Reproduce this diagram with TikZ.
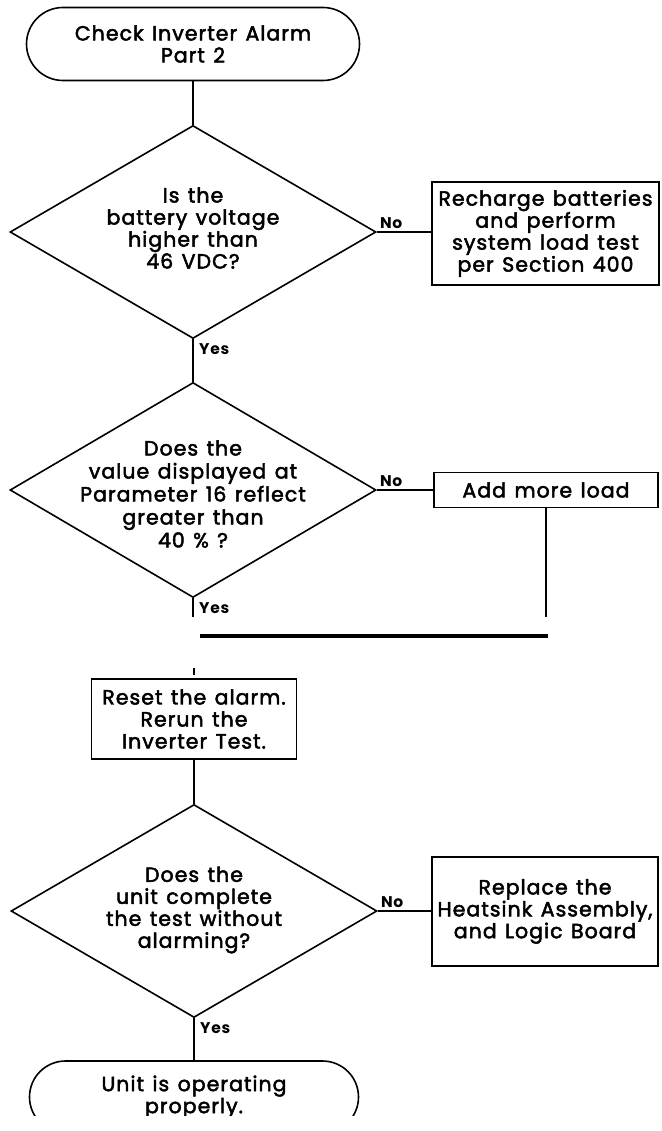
\documentclass[tikz,border=0pt]{standalone}
\usepackage{fontspec}
\setmainfont{Poppins}[UprightFeatures={FakeBold=2.4}, LetterSpace=5, WordSpace=1.3]
\usetikzlibrary{shapes.geometric,shapes.misc}

\begin{document}
\begin{tikzpicture}[x=1pt,y=-1pt,
  line/.style={line width=1.6pt},
  heavyline/.style={line width=2.6pt},
  bar/.style={line width=4.5pt},
  txt/.style={font=\fontsize{20.5}{22}\selectfont, align=center, inner sep=0pt},
  decision/.style={draw, line width=1.6pt, diamond, minimum width=366pt, minimum height=213pt, inner sep=0pt},
  stepbox/.style={draw, line width=1.8pt, rectangle, inner sep=0pt, txt},
  terminal/.style={draw, line width=1.6pt, rounded rectangle, inner sep=0pt, txt},
  tag/.style={font=\fontsize{15.5}{15.5}\selectfont\bfseries, inner sep=0pt}
]
\useasboundingbox (0,0) rectangle (661,1131);
\fill[white] (0,0) rectangle (661,1131);

% start terminal
\node[terminal, minimum width=333pt, minimum height=73pt] (start) at (193,44)
  {Check Inverter Alarm\\Part 2};

% first decision: battery voltage
\node[decision] (q1) at (193,232) {};
\node[txt] (q1text) at (193,228) {Is the\\battery voltage\\higher than\\46 VDC?};
\node[stepbox, minimum width=227pt, minimum height=103pt] (recharge) at (545.5,233.5)
  {Recharge batteries\\and perform\\system load test\\per Section 400};

\draw[line] (start.south) -- (q1.north);
\draw[line] (q1.east) -- (q1.east -| recharge.west);
\node[tag, anchor=south west] (no1) at ([xshift=3pt,yshift=3pt]q1.east) {No};

% second decision: load percentage
\node[decision, minimum height=215pt] (q2) at (193,490) {};
\node[txt, font=\fontsize{20.5}{23}\selectfont] (q2text) at (193,494)
  {Does the\\value displayed at\\Parameter 16 reflect\\greater than\\40 \% ?};
\node[stepbox, minimum width=224pt, minimum height=35pt] (addload) at (546,490) {Add more load};

\draw[line] (q1.south) -- (q2.north);
\node[tag, anchor=north west] (yes1) at ([xshift=6pt,yshift=-4pt]q1.south) {Yes};
\draw[line] (q2.east) -- (q2.east -| addload.west);
\node[tag, anchor=south west] (no2) at ([xshift=3pt,yshift=3pt]q2.east) {No};

% broken merge of the two branches
\coordinate (yesend) at (193,617);
\coordinate (loadend) at (546,617);
\coordinate (barL) at (200,636);
\coordinate (barR) at (548,636);
\coordinate (tickA) at (194,668);
\coordinate (tickB) at (194,675);
\draw[heavyline] (q2.south) -- (yesend);
\node[tag, anchor=north west] (yes2) at ([xshift=6pt,yshift=-4pt]q2.south) {Yes};
\draw[line] (addload.south) -- (loadend);
\draw[bar] (barL) -- (barR);
\draw[heavyline] (tickA) -- (tickB);

% reset step
\node[stepbox, minimum width=205pt, minimum height=80pt] (reset) at (194,719)
  {Reset the alarm.\\Rerun the\\Inverter Test.};

% third decision: test completes
\node[decision] (q3) at (194,911) {};
\node[txt] (q3text) at (194,910) {Does the\\unit complete\\the test without\\alarming?};
\node[stepbox, minimum width=226pt, minimum height=109pt, font=\fontsize{20.5}{20}\selectfont] (replace) at (545,911.5)
  {Replace the\\Heatsink Assembly,\\and Logic Board};

\draw[line] (reset.south) -- (q3.north);
\draw[line] (q3.east) -- (q3.east -| replace.west);
\node[tag, anchor=south west] (no3) at ([xshift=3pt,yshift=3pt]q3.east) {No};

% end terminal, cut at the lower edge
\begin{scope}
  \clip (0,0) rectangle (661,1115);
  \node[terminal, minimum width=329pt, minimum height=72pt] (finish) at (194,1097)
    {Unit is operating\\properly.};
\end{scope}
\draw[line] (q3.south) -- (finish.north);
\node[tag, anchor=north west] (yes3) at ([xshift=6pt,yshift=-4pt]q3.south) {Yes};
\end{tikzpicture}
\end{document}
